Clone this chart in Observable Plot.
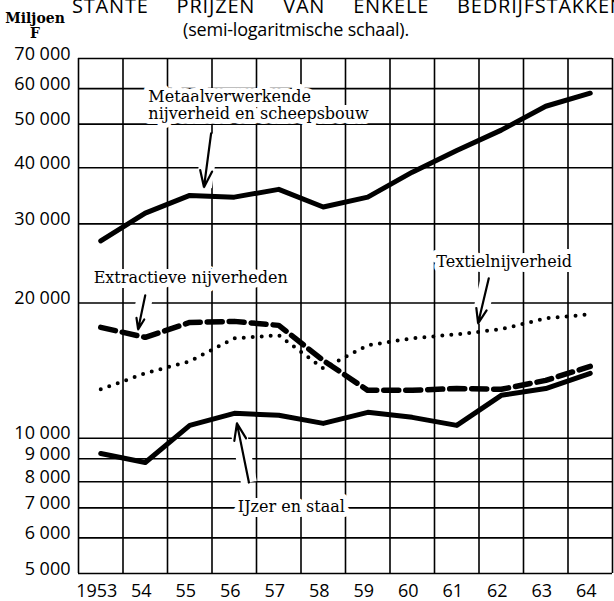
<!DOCTYPE html>
<html><head><meta charset="utf-8">
<script src="https://cdn.jsdelivr.net/npm/d3@7"></script>
<script src="https://cdn.jsdelivr.net/npm/@observablehq/plot@0.6"></script>
<style>
body{margin:0;background:#fff;width:614px;height:601px;overflow:hidden;position:relative;font-family:"Open Sans",sans-serif;color:#000;}
#header{position:relative;height:48px;}
#title{position:absolute;left:72px;top:-4px;font-size:20px;letter-spacing:0.8px;word-spacing:22px;white-space:nowrap;line-height:20px;}
#sub{position:absolute;left:0;width:592px;text-align:center;top:19px;font-size:18px;line-height:20px;letter-spacing:-0.2px;white-space:nowrap;}
#unit{position:absolute;left:4px;top:11px;width:62px;text-align:center;font-family:"DejaVu Serif",serif;font-weight:bold;font-size:14px;line-height:15px;}
g[aria-label="annotations"] text{letter-spacing:1px}
</style></head>
<body>
<div id="header">
  <div id="title">STANTE PRIJZEN VAN ENKELE BEDRIJFSTAKKEN</div>
  <div id="unit">Miljoen<br>F</div>
  <div id="sub">(semi-logaritmische schaal).</div>
</div>
<div id="chart"></div>
<script>
// --- data ---
const years = [1953, 1954, 1955, 1956, 1957, 1958, 1959, 1960, 1961, 1962, 1963, 1964];
const xTickLabels = ["1953", "54", "55", "56", "57", "58", "59", "60", "61", "62", "63", "64"];
const metaal = [27500, 31700, 34700, 34400, 35800, 32700, 34400, 39100, 43700, 48500, 54800, 58600];
const ijzer = [9250, 8830, 10680, 11360, 11250, 10790, 11420, 11130, 10680, 12460, 12900, 13950];
const extractief = [17650, 16770, 18100, 18200, 17830, 14900, 12780, 12780, 12900, 12850, 13450, 14450];
const textiel = [12850, 13950, 14830, 16690, 16950, 14300, 16100, 16690, 17030, 17480, 18490, 18870];

const yTicks = [5000, 6000, 7000, 8000, 9000, 10000, 20000, 30000, 40000, 50000, 60000, 70000];
const yTickLabels = ["5 000", "6 000", "7 000", "8 000", "9 000", "10 000", "20 000", "30 000", "40 000", "50 000", "60 000", "70 000"];
const xGrid = [1952.5, 1953.5, 1954.5, 1955.5, 1956.5, 1957.5, 1958.5, 1959.5, 1960.5, 1961.5, 1962.5, 1963.5, 1964.5];

// annotations (data coordinates)
const labelText = ["Metaalverwerkende\nnijverheid en scheepsbouw", "Extractieve nijverheden", "Textielnijverheid", "IJzer en staal"];
const labelYear = [1954.07, 1952.84, 1960.54, 1956.08];
const labelValue = [51300, 22100, 24000, 6840];

const arrowFromYear = [1955.48, 1954.0, 1961.72, 1956.33];
const arrowFromValue = [47700, 20800, 22700, 7970];
const arrowToYear = [1955.32, 1953.84, 1961.48, 1956.06];
const arrowToValue = [36200, 17470, 18020, 10790];

// --- tables ---
const rows = years.map((year, i) => ({year, metaal: metaal[i], ijzer: ijzer[i], extractief: extractief[i], textiel: textiel[i]}));
const labels = labelText.map((text, i) => ({text, year: labelYear[i], value: labelValue[i]}));
const arrows = arrowFromYear.map((x1, i) => ({x1, y1: arrowFromValue[i], x2: arrowToYear[i], y2: arrowToValue[i]}));

const chart = Plot.plot({
  width: 614,
  height: 553,
  marginTop: 10,
  marginBottom: 28,
  marginLeft: 78,
  marginRight: 2,
  style: {background: "transparent", overflow: "visible", fontFamily: "Open Sans", fontSize: "18px", color: "black"},
  x: {domain: [1952.5, 1964.5], axis: null},
  y: {type: "log", domain: [5000, 70000], axis: null},
  marks: [
    Plot.ruleY(yTicks, {stroke: "black", strokeWidth: 1.6}),
    Plot.ruleX(xGrid, {stroke: "black", strokeWidth: 1.6}),
    Plot.axisY(yTicks, {tickSize: 0, tickPadding: 8, lineAnchor: "bottom", dy: 1, label: null, fill: "black",
      tickFormat: d => yTickLabels[yTicks.indexOf(d)]}),
    Plot.axisX(years, {tickSize: 0, tickPadding: 11, dx: -4, label: null, fill: "black",
      tickFormat: d => xTickLabels[years.indexOf(d)]}),
    // white gaps under arrows
    Plot.link(arrows, {x1: "x1", y1: "y1", x2: "x2", y2: "y2", stroke: "white", strokeWidth: 16}),
    // labels with white halo
    Plot.text(labels, {x: "year", y: "value", text: "text", textAnchor: "start", lineAnchor: "bottom", lineHeight: 1.05,
      fontFamily: "DejaVu Serif", fontSize: 16, fill: "black", stroke: "white", strokeWidth: 10, ariaLabel: "annotations"}),
    // series
    Plot.lineY(rows, {x: "year", y: "metaal", stroke: "black", strokeWidth: 5, strokeLinejoin: "round"}),
    Plot.lineY(rows, {x: "year", y: "ijzer", stroke: "black", strokeWidth: 5, strokeLinejoin: "round"}),
    Plot.lineY(rows, {x: "year", y: "extractief", stroke: "black", strokeWidth: 5.5, strokeDasharray: "15 7"}),
    Plot.lineY(rows, {x: "year", y: "textiel", stroke: "black", strokeWidth: 4, strokeDasharray: "0 9", strokeLinecap: "round"}),
    // arrows
    Plot.arrow(arrows, {x1: "x1", y1: "y1", x2: "x2", y2: "y2", stroke: "black", strokeWidth: 2.2, headLength: 12, headAngle: 40})
  ]
});
document.getElementById("chart").appendChild(chart);
</script>
</body></html>
